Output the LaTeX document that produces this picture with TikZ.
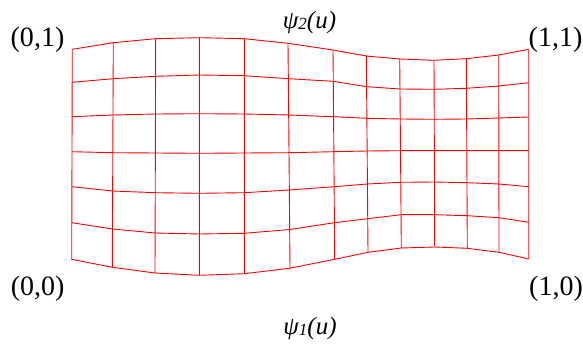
\documentclass[tikz,border=0pt]{standalone}
\usepackage{fontspec}
\setmainfont{Liberation Serif}
\begin{document}
\begin{tikzpicture}[x=1pt,y=-1pt,
  grid/.style={draw=red, line width=0.9pt, line join=round},
  lab/.style={inner sep=0pt, font=\fontsize{28}{30}\selectfont},
  psilab/.style={inner sep=0pt, font=\fontsize{25}{28}\selectfont\itshape}]
\useasboundingbox (0,0) rectangle (583,344);
\def\XA{{72.3,113.3,155.7,199.3,244.3,288,333,366.3,399.7,434,466.3,498.7,528.7}}
\def\XB{{71.7,112.3,155,199.3,244.3,290,334.7,368,401.3,434.7,467.3,499,528.7}}
\def\Yall{{49.3,42.7,38.7,37.7,38.7,43.3,50,56,59,60.3,58.7,55,49.3,
82.3,78.7,76.3,75,75.7,78.7,81.3,86.7,89,89.3,88.3,86,82.7,
116.7,115,114,113.7,114,115,116.7,118.3,119,119.3,119,118,117,
151.7,152.7,153,153.3,153,152.7,151.7,151,150.7,150.7,150.7,150.7,150.7,
186.7,191,192.7,193.3,192.7,190,186.7,184,182.3,182,182.7,184,186.7,
222.7,229,233,234,233.3,229.5,222.7,218.7,214.7,214.7,215.7,217.7,222.3,
259.3,267.3,273,275.3,273.7,268.2,259.3,252.3,248,247,248.3,252.3,259}}
\foreach \r in {0,...,6}{
  \foreach \c in {0,...,12}{
    \pgfmathtruncatemacro\idx{\r*13+\c}
    \pgfmathsetmacro\yy{\Yall[\idx]}
    \pgfmathsetmacro\xx{\XA[\c]*(1-\r/6)+\XB[\c]*\r/6}
    \coordinate (p\r-\c) at (\xx,\yy);
  }
}
% horizontal lines
\foreach \r in {0,...,6}{
  \draw[grid] (p\r-0) \foreach \c in {1,...,12}{ -- (p\r-\c) };
}
% vertical lines
\foreach \c in {0,...,12}{
  \draw[grid] (p0-\c) \foreach \r in {1,...,6}{ -- (p\r-\c) };
}
% labels
\node[lab] (c01) at (37.5,39.8) {(0,1)};
\node[lab] (c11) at (555.5,39.9) {(1,1)};
\node[lab] (c00) at (37.7,288.3) {(0,0)};
\node[lab] (c10) at (556,289) {(1,0)};
\node[psilab] (psi2) at (309.5,22.5) {ψ{\fontsize{17}{17}\selectfont\raisebox{-1pt}{2}}(u)};
\node[psilab] (psi1) at (310,328.5) {ψ{\fontsize{17}{17}\selectfont\raisebox{-1pt}{1}}(u)};
\end{tikzpicture}
\end{document}
